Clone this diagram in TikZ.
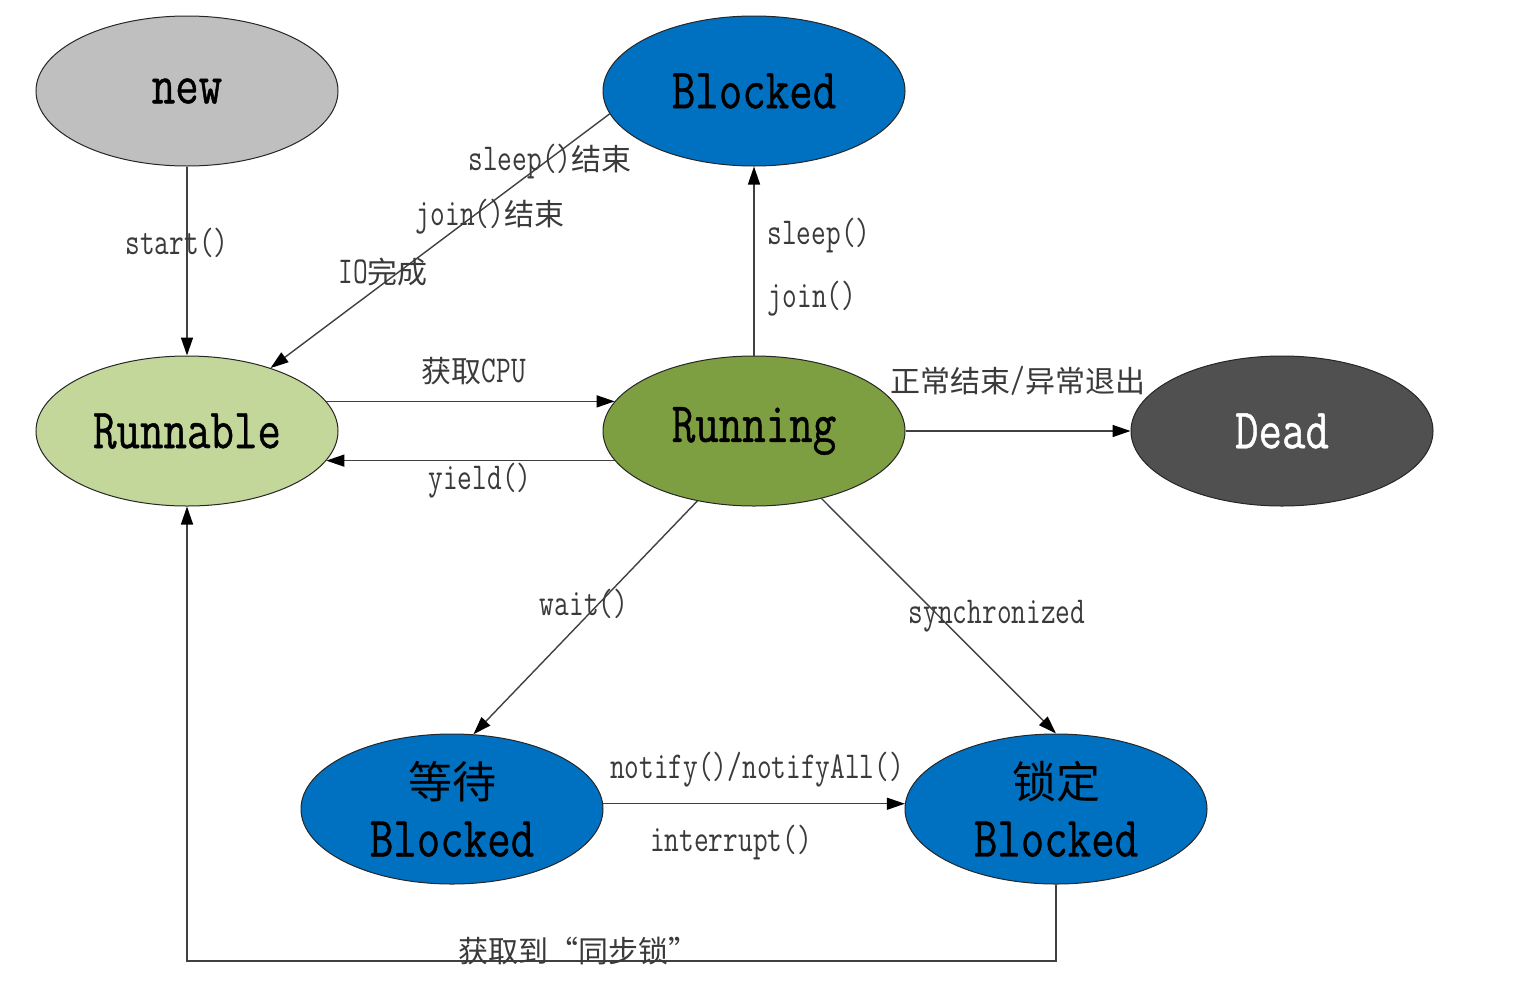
\documentclass[tikz,border=0pt]{standalone}
\usepackage{fontspec}
\usetikzlibrary{arrows.meta,shapes.geometric}
\newfontfamily\latinfam[FakeStretch=0.75]{Latin Modern Mono}
\newfontfamily\latinbig[FakeStretch=0.8,FakeBold=0.7]{Latin Modern Mono}
\newfontfamily\cjkfam{Noto Sans CJK SC}
\newcommand{\txtL}[1]{{\latinfam\fontsize{38}{40}\selectfont #1}}
\newcommand{\txtC}[1]{{\cjkfam\fontsize{30}{34}\selectfont #1}}
\newcommand{\bigL}[1]{{\latinbig\fontsize{57}{58}\selectfont #1}}
\newcommand{\bigC}[1]{{\cjkfam\fontsize{44}{58}\selectfont #1}}
\definecolor{newgray}{HTML}{BFBFBF}
\definecolor{bblue}{HTML}{0070C0}
\definecolor{rgreen}{HTML}{C4D79B}
\definecolor{ggreen}{HTML}{7E9E42}
\definecolor{dgray}{HTML}{505050}
\definecolor{labcol}{HTML}{3A3A3A}
\tikzset{
  state/.style={ellipse, draw=black!85, line width=1pt, minimum width=302pt, minimum height=150pt, inner sep=0pt, align=center, font=\fontsize{50}{58}\selectfont},
  conn/.style={draw=black!75, line width=1.4pt, -{Triangle[length=18pt,width=12pt,color=black]}},
  lab/.style={text=labcol, inner sep=0pt}
}
\begin{document}
\begin{tikzpicture}[x=1pt,y=-1pt]
\useasboundingbox (0,0) rectangle (1522,996);
% states
\node[state, fill=newgray] (new) at (187,91) {\bigL{new}};
\node[state, fill=bblue] (blk) at (754,91) {\bigL{Blocked}};
\node[state, fill=rgreen] (run) at (187,431) {\bigL{Runnable}};
\node[state, fill=ggreen] (ring) at (754,431) {\bigL{Running}};
\node[state, fill=dgray, text=white] (dead) at (1282,431) {\bigL{Dead}};
\node[state, fill=bblue] (wait) at (452,809) {\bigC{等待}\\\bigL{Blocked}};
\node[state, fill=bblue] (lock) at (1056,809) {\bigC{锁定}\\\bigL{Blocked}};
\coordinate (corner) at (1056,961);
% connectors
\draw[conn] (new) -- (run);
\draw[conn] (blk.189) -- (run.37);
\draw[conn] (ring) -- (blk);
\draw[conn] (run.12) -- (ring.168);
\draw[conn] (ring.192) -- (run.348);
\draw[conn] (ring) -- (dead);
\draw[conn] (ring.231) -- (wait.74);
\draw[conn] (ring.315) -- (lock.north);
\draw[conn] (wait.2) -- (lock.178);
\draw[conn] (lock.south) -- (corner) -| (run.south);
% labels
\node[lab] (l1) at (177,243) {\txtL{start()}};
\node[lab] (l2) at (550,162) {\txtL{sleep()}\txtC{结束}};
\node[lab] (l3) at (490,217) {\txtL{join()}\txtC{结束}};
\node[lab] (l4) at (383,272) {\txtL{IO}\txtC{完成}};
\node[lab] (l5) at (819,236) {\txtL{sleep()}};
\node[lab] (l6) at (812,299) {\txtL{join()}};
\node[lab] (l7) at (474,371) {\txtC{获取}\txtL{CPU}};
\node[lab] (l8) at (480,481) {\txtL{yield()}};
\node[lab] (l9) at (1018,381) {\txtC{正常结束}\txtL{/}\txtC{异常退出}};
\node[lab] (l10) at (584,604) {\txtL{wait()}};
\node[lab] (l11) at (997,616) {\txtL{synchronized}};
\node[lab] (l12) at (757,770) {\txtL{notify()/notifyAll()}};
\node[lab] (l13) at (731,843) {\txtL{interrupt()}};
\node[lab] (l14) at (578,951) {\txtC{获取到“同步锁”}};
\end{tikzpicture}
\end{document}
